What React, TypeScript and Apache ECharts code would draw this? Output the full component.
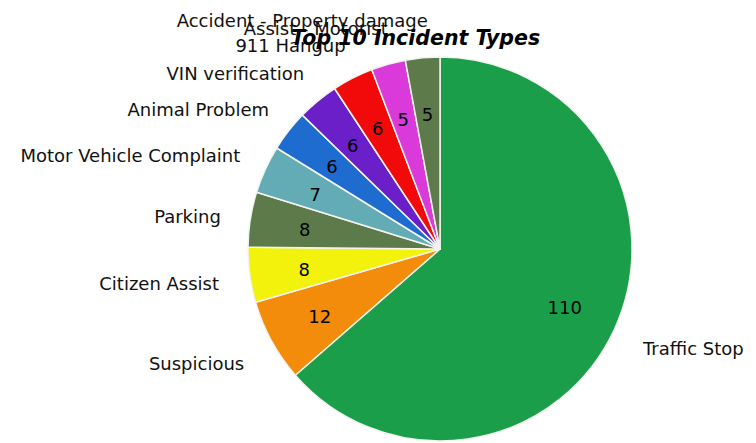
import React, { useEffect, useRef } from "react";
import * as echarts from "echarts";

const categories = [
  "Traffic Stop",
  "Suspicious",
  "Citizen Assist",
  "Parking",
  "Motor Vehicle Complaint",
  "Animal Problem",
  "VIN verification",
  "911 Hangup",
  "Assist - Motorist",
  "Accident - Property damage",
];
const counts = [110, 12, 8, 8, 7, 6, 6, 6, 5, 5];
const colors = [
  "#1a9e4a",
  "#f28c0a",
  "#f2f20c",
  "#5d7a4b",
  "#63acb5",
  "#1f6cd0",
  "#6a1fc9",
  "#f20a0a",
  "#d93ad9",
  "#5d7a4b",
];
const titleText = "Top 10 Incident Types";

const CX = 440;
const CY = 249;
const R = 192;
const NAME_DX = 223;
const NAME_DY = 232;
const VALUE_D = 137;

export default function App() {
  const ref = useRef<HTMLDivElement>(null);
  useEffect(() => {
    if (!ref.current) return;
    const chart = echarts.init(ref.current, null, { renderer: "svg" });
    const total = counts.reduce((a, b) => a + b, 0);
    const cum: number[] = [];
    let acc = 0;
    counts.forEach((v) => {
      cum.push(acc);
      acc += v;
    });
    const midDir = (i: number) => {
      const a = ((cum[i] + counts[i] / 2) / total) * Math.PI * 2;
      return { dx: Math.sin(a), dy: -Math.cos(a) };
    };
    const data = categories.map((name, i) => ({
      name,
      value: counts[i],
      itemStyle: { color: colors[i] },
    }));
    chart.setOption({
      animation: false,
      title: {
        text: titleText,
        left: 286,
        top: 23,
        textStyle: {
          fontFamily: "DejaVu Sans",
          fontWeight: "bold",
          fontStyle: "italic",
          fontSize: 20.5,
          color: "#000",
        },
      },
      series: [
        {
          type: "pie",
          center: [CX, CY],
          radius: [0, R],
          startAngle: 90,
          clockwise: true,
          avoidLabelOverlap: false,
          silent: true,
          itemStyle: { borderColor: "#f4f4ee", borderWidth: 1.5 },
          label: {
            show: true,
            position: "outside",
            formatter: "{b}",
            fontFamily: "DejaVu Sans",
            fontSize: 18,
            color: "#111",
          },
          labelLine: { show: false },
          labelLayout: (p: any) => {
            const { dx, dy } = midDir(p.dataIndex);
            return {
              x: CX + dx * NAME_DX + 8 * Math.max(0, -dy),
              y: CY + dy * NAME_DY + 3,
              align: dx < 0 ? "right" : "left",
              verticalAlign: "middle",
            };
          },
          data,
        },
        {
          type: "pie",
          center: [CX, CY],
          radius: [0, R],
          startAngle: 90,
          clockwise: true,
          avoidLabelOverlap: false,
          silent: true,
          itemStyle: { color: "rgba(0,0,0,0)", borderWidth: 0 },
          label: {
            show: true,
            position: "inside",
            formatter: "{c}",
            fontFamily: "DejaVu Sans",
            fontSize: 18,
            color: "#000",
          },
          labelLine: { show: false },
          labelLayout: (p: any) => {
            const { dx, dy } = midDir(p.dataIndex);
            return {
              x: CX + dx * VALUE_D,
              y: CY + dy * VALUE_D + 2,
              align: "center",
              verticalAlign: "middle",
            };
          },
          data: categories.map((name, i) => ({ name, value: counts[i] })),
        },
      ],
    });
    return () => chart.dispose();
  }, []);
  return (
    <div
      ref={ref}
      style={{ position: "fixed", left: 0, top: 0, width: 756, height: 443, background: "#fff" }}
    />
  );
}
